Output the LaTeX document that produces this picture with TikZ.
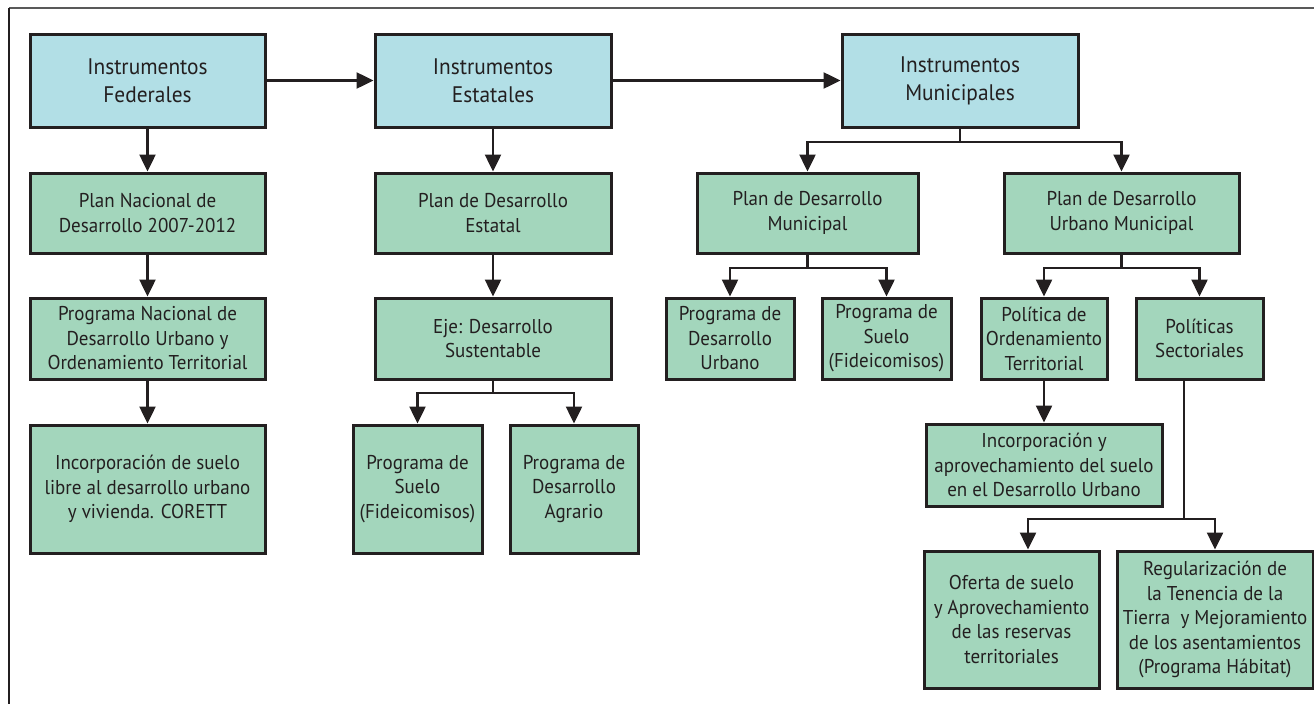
\documentclass[tikz,border=0pt]{standalone}
\usepackage{fontspec}
\setmainfont[FakeStretch=0.95]{PT Sans}
\usetikzlibrary{arrows.meta}
\definecolor{hblue}{RGB}{178,223,230}
\definecolor{bgreen}{RGB}{163,214,188}
\definecolor{ink}{RGB}{35,31,32}
\tikzset{
  base/.style={draw=ink, line width=3pt, inner sep=0pt, align=center, text=ink},
  hbox/.style={base, fill=hblue, font=\fontsize{22.5}{28}\selectfont},
  gbox/.style={base, fill=bgreen, font=\fontsize{20}{24.5}\selectfont},
  conn/.style={draw=ink, line width=2.5pt},
  arr/.style={conn, -{Triangle[length=17pt,width=16pt]}},
}
\begin{document}
\begin{tikzpicture}[x=1pt,y=-1pt]
\useasboundingbox (0,0) rectangle (1314,704);
% frame
\draw[gray!70!black, line width=1.5pt] (9,8) -- (1314,8);
\draw[ink, line width=2pt] (9,8) -- (9,704);
% headers
\node[hbox, minimum width=235, minimum height=93] (fed) at (147.5,80.5) {Instrumentos\\Federales};
\node[hbox, minimum width=236, minimum height=93] (est) at (493,80.5) {Instrumentos\\Estatales};
\node[hbox, minimum width=236, minimum height=93] (mun) at (960,80.5) {Instrumentos\\Municipales};
% row 2
\node[gbox, minimum width=235, minimum height=80] (pnd) at (147.5,213) {Plan Nacional de\\Desarrollo 2007-2012};
\node[gbox, minimum width=236, minimum height=80] (pde) at (493,213) {Plan de Desarrollo\\Estatal};
\node[gbox, minimum width=221, minimum height=80] (pdm) at (807.5,213) {Plan de Desarrollo\\Municipal};
\node[gbox, minimum width=235, minimum height=80] (pdum) at (1121.5,213) {Plan de Desarrollo\\Urbano Municipal};
% row 3
\node[gbox, minimum width=235, minimum height=81] (pnduot) at (147.5,338.5) {Programa Nacional de\\Desarrollo Urbano y\\Ordenamiento Territorial};
\node[gbox, minimum width=236, minimum height=81] (eje) at (493,338.5) {Eje: Desarrollo\\Sustentable};
\node[gbox, minimum width=128, minimum height=81] (pdu) at (730,338.5) {Programa de\\Desarrollo\\Urbano};
\node[gbox, minimum width=129, minimum height=81] (psm) at (886.5,338.5) {Programa de\\Suelo\\(Fideicomisos)};
\node[gbox, minimum width=126, minimum height=81] (pot) at (1044,338.5) {Política de\\Ordenamiento\\Territorial};
\node[gbox, minimum width=127, minimum height=81] (ps) at (1199.5,338.5) {Políticas\\Sectoriales};
% row 4
\node[gbox, minimum width=235, minimum height=128] (isl) at (147.5,489) {Incorporación de suelo\\libre al desarrollo urbano\\y vivienda. CORETT};
\node[gbox, minimum width=129, minimum height=128] (pse) at (417.5,489) {Programa de\\Suelo\\(Fideicomisos)};
\node[gbox, minimum width=128, minimum height=128] (pda) at (574,489) {Programa de\\Desarrollo\\Agrario};
\node[gbox, minimum width=236, minimum height=82] (iads) at (1044,465) {Incorporación y\\aprovechamiento del suelo\\en el Desarrollo Urbano};
% row 5
\node[gbox, minimum width=175, minimum height=137] (ofs) at (1011.5,619.5) {Oferta de suelo\\y Aprovechamiento\\de las reservas\\territoriales};
\node[gbox, minimum width=196, minimum height=137] (reg) at (1215,619.5) {Regularización de\\la Tenencia de la\\Tierra~~y Mejoramiento\\de los asentamientos\\(Programa Hábitat)};
% junctions
\coordinate (munJ) at (960,142);
\coordinate (ejeJ) at (493,393);
\coordinate (pdmJ) at (807.5,268);
\coordinate (pdumJ) at (1121.5,268);
\coordinate (psJ) at (1184,519);
\coordinate (psTop) at (1184,379);
\coordinate (ofsIn) at (1028,519);
% connectors
\draw[arr] (fed) -- (est);
\draw[arr] (est) -- (mun);
\draw[arr] (fed) -- (pnd);
\draw[arr] (pnd) -- (pnduot);
\draw[arr] (pnduot) -- (isl);
\draw[arr] (est) -- (pde);
\draw[arr] (pde) -- (eje);
\draw[conn] (eje.south) -- (ejeJ);
\draw[arr] (ejeJ) -| (pse.north);
\draw[arr] (ejeJ) -| (pda.north);
\draw[conn] (mun.south) -- (munJ);
\draw[arr] (munJ) -| (pdm.north);
\draw[arr] (munJ) -| (pdum.north);
\draw[conn] (pdm.south) -- (pdmJ);
\draw[arr] (pdmJ) -| (pdu.north);
\draw[arr] (pdmJ) -| (psm.north);
\draw[conn] (pdum.south) -- (pdumJ);
\draw[arr] (pdumJ) -| (pot.north);
\draw[arr] (pdumJ) -| (ps.north);
\draw[arr] (pot) -- (iads);
\draw[conn] (psTop) -- (psJ);
\draw[arr] (psJ) -- (ofsIn) -- (ofsIn |- ofs.north);
\draw[arr] (psJ) -| (reg.north);
\end{tikzpicture}
\end{document}
